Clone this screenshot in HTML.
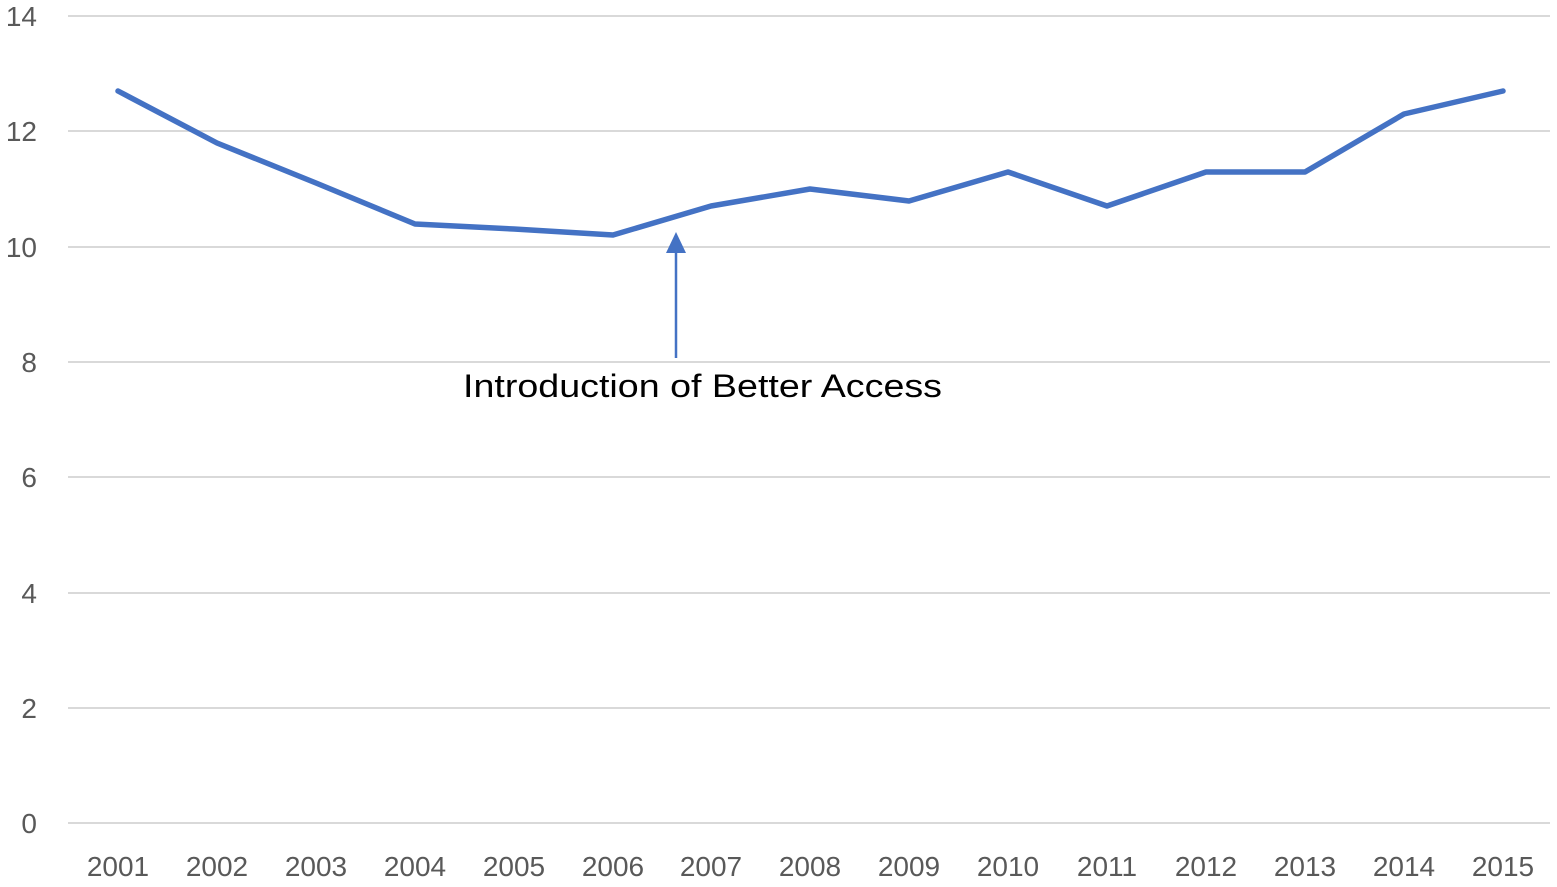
<!DOCTYPE html>
<html><head><meta charset="utf-8"><style>body{margin:0;background:#fff}</style></head><body>
<svg width="1557" height="882" xmlns="http://www.w3.org/2000/svg" font-family="Liberation Sans, sans-serif">
<g stroke="#d9d9d9" stroke-width="2">
<line x1="68" x2="1550" y1="16" y2="16"/><line x1="68" x2="1550" y1="131" y2="131"/>
<line x1="68" x2="1550" y1="247" y2="247"/><line x1="68" x2="1550" y1="362" y2="362"/>
<line x1="68" x2="1550" y1="477" y2="477"/><line x1="68" x2="1550" y1="593" y2="593"/>
<line x1="68" x2="1550" y1="708" y2="708"/><line x1="68" x2="1550" y1="823" y2="823"/>
</g>
<g fill="#595959" font-size="28" text-anchor="end">
<text x="37" y="26">14</text><text x="37" y="141">12</text><text x="37" y="257">10</text>
<text x="37" y="372">8</text><text x="37" y="487">6</text><text x="37" y="603">4</text>
<text x="37" y="718">2</text><text x="37" y="833">0</text>
</g>
<g fill="#595959" font-size="28" text-anchor="middle">
<text x="118" y="876">2001</text><text x="217" y="876">2002</text><text x="316" y="876">2003</text>
<text x="415" y="876">2004</text><text x="514" y="876">2005</text><text x="613" y="876">2006</text>
<text x="711" y="876">2007</text><text x="810" y="876">2008</text><text x="909" y="876">2009</text>
<text x="1008" y="876">2010</text><text x="1107" y="876">2011</text><text x="1206" y="876">2012</text>
<text x="1305" y="876">2013</text><text x="1404" y="876">2014</text><text x="1503" y="876">2015</text>
</g>
<polyline fill="none" stroke="#4472c4" stroke-width="5.5" stroke-linejoin="round" stroke-linecap="round"
points="118,91 217,143 316,183 415,224 514,229 613,235 711,206 810,189 909,201 1008,172 1107,206 1206,172 1305,172 1404,114 1503,91"/>
<line x1="676" y1="358" x2="676" y2="250" stroke="#4472c4" stroke-width="2.5"/>
<polygon points="676,232 666,253 686,253" fill="#4472c4"/>
<text x="463" y="397" font-size="32" fill="#000" textLength="479" lengthAdjust="spacingAndGlyphs">Introduction of Better Access</text>
</svg>
</body></html>
